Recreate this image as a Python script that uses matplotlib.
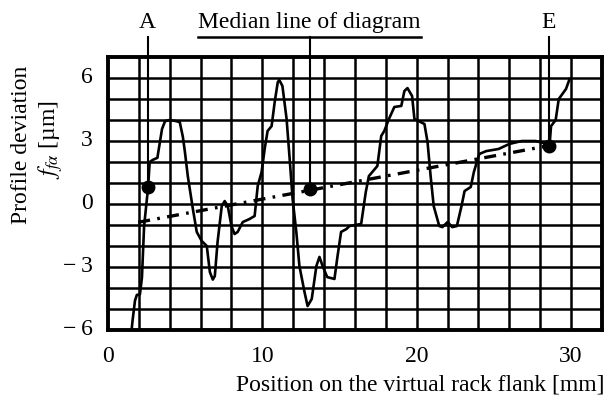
import matplotlib
matplotlib.use('Agg')
import matplotlib.pyplot as plt
import matplotlib.transforms as mtransforms

# profile trace (position mm, deviation um)
pos = [1.53, 1.6, 1.75, 1.87, 2.07, 2.2, 2.34, 2.6, 2.7, 2.9, 3.2, 3.5, 3.7, 4.0, 4.4, 4.65,
       4.85, 4.98, 5.17, 5.5, 5.75, 6.07, 6.4, 6.6, 6.79, 6.92, 7.1, 7.37, 7.56, 7.76, 8.0,
       8.2, 8.4, 8.73, 9.18, 9.5, 9.7, 9.95, 10.15, 10.34, 10.6, 10.8, 11.0, 11.1, 11.3,
       11.57, 11.77, 11.96, 12.2, 12.4, 12.73, 12.93, 13.2, 13.5, 13.7, 13.9, 14.2, 14.67,
       14.87, 15.1, 15.45, 15.64, 16.4, 16.7, 16.9, 17.45, 17.7, 17.9, 18.2, 18.55, 19.0,
       19.2, 19.4, 19.7, 19.85, 20.5, 20.7, 20.9, 21.1, 21.46, 21.66, 22.0, 22.3, 22.6,
       22.9, 23.1, 23.5, 23.7, 24.05, 24.5, 25.3, 26.0, 26.8, 27.7, 28.45, 28.6, 28.7,
       29.0, 29.2, 29.67, 29.9]
dev = [-6.0, -5.5, -4.6, -4.33, -4.3, -3.5, -1.05, 0.8, 2.0, 2.1, 2.2, 3.57, 3.95, 4.0,
       3.95, 3.9, 3.2, 2.5, 1.33, -0.24, -1.33, -1.76, -2.0, -3.24, -3.6, -3.43, -1.8, -0.1,
       0.14, -0.1, -1.05, -1.43, -1.33, -0.86, -0.71, -0.57, 0.86, 1.52, 2.62, 3.48, 3.71,
       4.86, 5.81, 5.9, 5.62, 4.05, 2.14, 0.24, -1.33, -2.95, -4.19, -4.86, -4.52, -2.95,
       -2.52, -2.95, -3.48, -3.57, -2.48, -1.33, -1.19, -1.05, -0.95, 0.57, 1.33, 1.81,
       3.24, 3.48, 4.05, 4.62, 4.67, 5.38, 5.52, 5.14, 4.05, 3.81, 2.95, 1.33, -0.1,
       -1.05, -1.1, -0.86, -1.1, -1.05, -0.1, 0.62, 0.81, 1.52, 2.38, 2.52, 2.62, 2.86,
       3.0, 3.0, 2.86, 2.76, 3.71, 4.0, 5.0, 5.48, 5.95]

# marked points A, median, E
mark_x = [2.6, 13.06, 28.57]
mark_y = [0.8, 0.71, 2.78]
median_x = [1.96, 28.57]
median_y = [-0.87, 2.78]

xticks = [0, 10, 20, 30]
yticks = [-6, -3, 0, 3, 6]
ytick_labels = ['\u2212\u20096', '\u2212\u20093', '0', '3', '6']

plt.rcParams['font.family'] = ['Liberation Serif', 'DejaVu Serif']
plt.rcParams['mathtext.fontset'] = 'stix'
fs = 17

fig = plt.figure(figsize=(6.08, 4.10), dpi=100)
ax = fig.add_axes([0.1776, 0.1927, 0.8125, 0.6658])
ax.set_xlim(0, 32)
ax.set_ylim(-6, 7)

# chart paper grid
for gx in range(2, 32, 2):
    ax.axvline(gx, color='black', lw=1.8, zorder=1)
for gy in range(-5, 7):
    ax.axhline(gy, color='black', lw=1.8, zorder=1)
for s in ax.spines.values():
    s.set_linewidth(2.8)

ax.plot(pos, dev, color='black', lw=1.9, zorder=3)
ax.plot(median_x, median_y, color='black', lw=2.4, ls=(0, (3.6, 2.2, 0.8, 2.2)), zorder=3)
ax.plot(mark_x, mark_y, 'o', color='black', ms=9, zorder=4)

# callouts above the frame
top = 7.95
for mx, my in zip(mark_x, mark_y):
    ax.plot([mx, mx], [my, top], color='black', lw=1.5, clip_on=False, zorder=2)
ax.plot([5.82, 20.3], [top, top], color='black', lw=1.8, clip_on=False)
ax.text(mark_x[0] - 0.08, 8.42, 'A', fontsize=fs, ha='center', va='baseline')
ax.text(mark_x[2], 8.42, 'E', fontsize=fs, ha='center', va='baseline')
ax.text(13.06, 8.42, 'Median line of diagram', fontsize=fs, ha='center', va='baseline')

ax.set_xticks(xticks)
ax.set_yticks(yticks)
ax.set_yticklabels(ytick_labels)
ax.tick_params(length=0, labelsize=fs, pad=11)
shift = mtransforms.ScaledTranslation(0, 4 / 100, fig.dpi_scale_trans)
for lab in ax.get_yticklabels():
    lab.set_transform(lab.get_transform() + shift)

fig.text(0.036, 0.646, 'Profile deviation', rotation=90, fontsize=fs, ha='center', va='center')
fig.text(0.084, 0.66, r'$f_{f\alpha}$ [µm]', rotation=90, fontsize=fs, ha='center', va='center')
fig.text(0.995, 0.061, 'Position on the virtual rack flank [mm]', fontsize=fs, ha='right', va='center')

plt.savefig('out.png', dpi=100)
